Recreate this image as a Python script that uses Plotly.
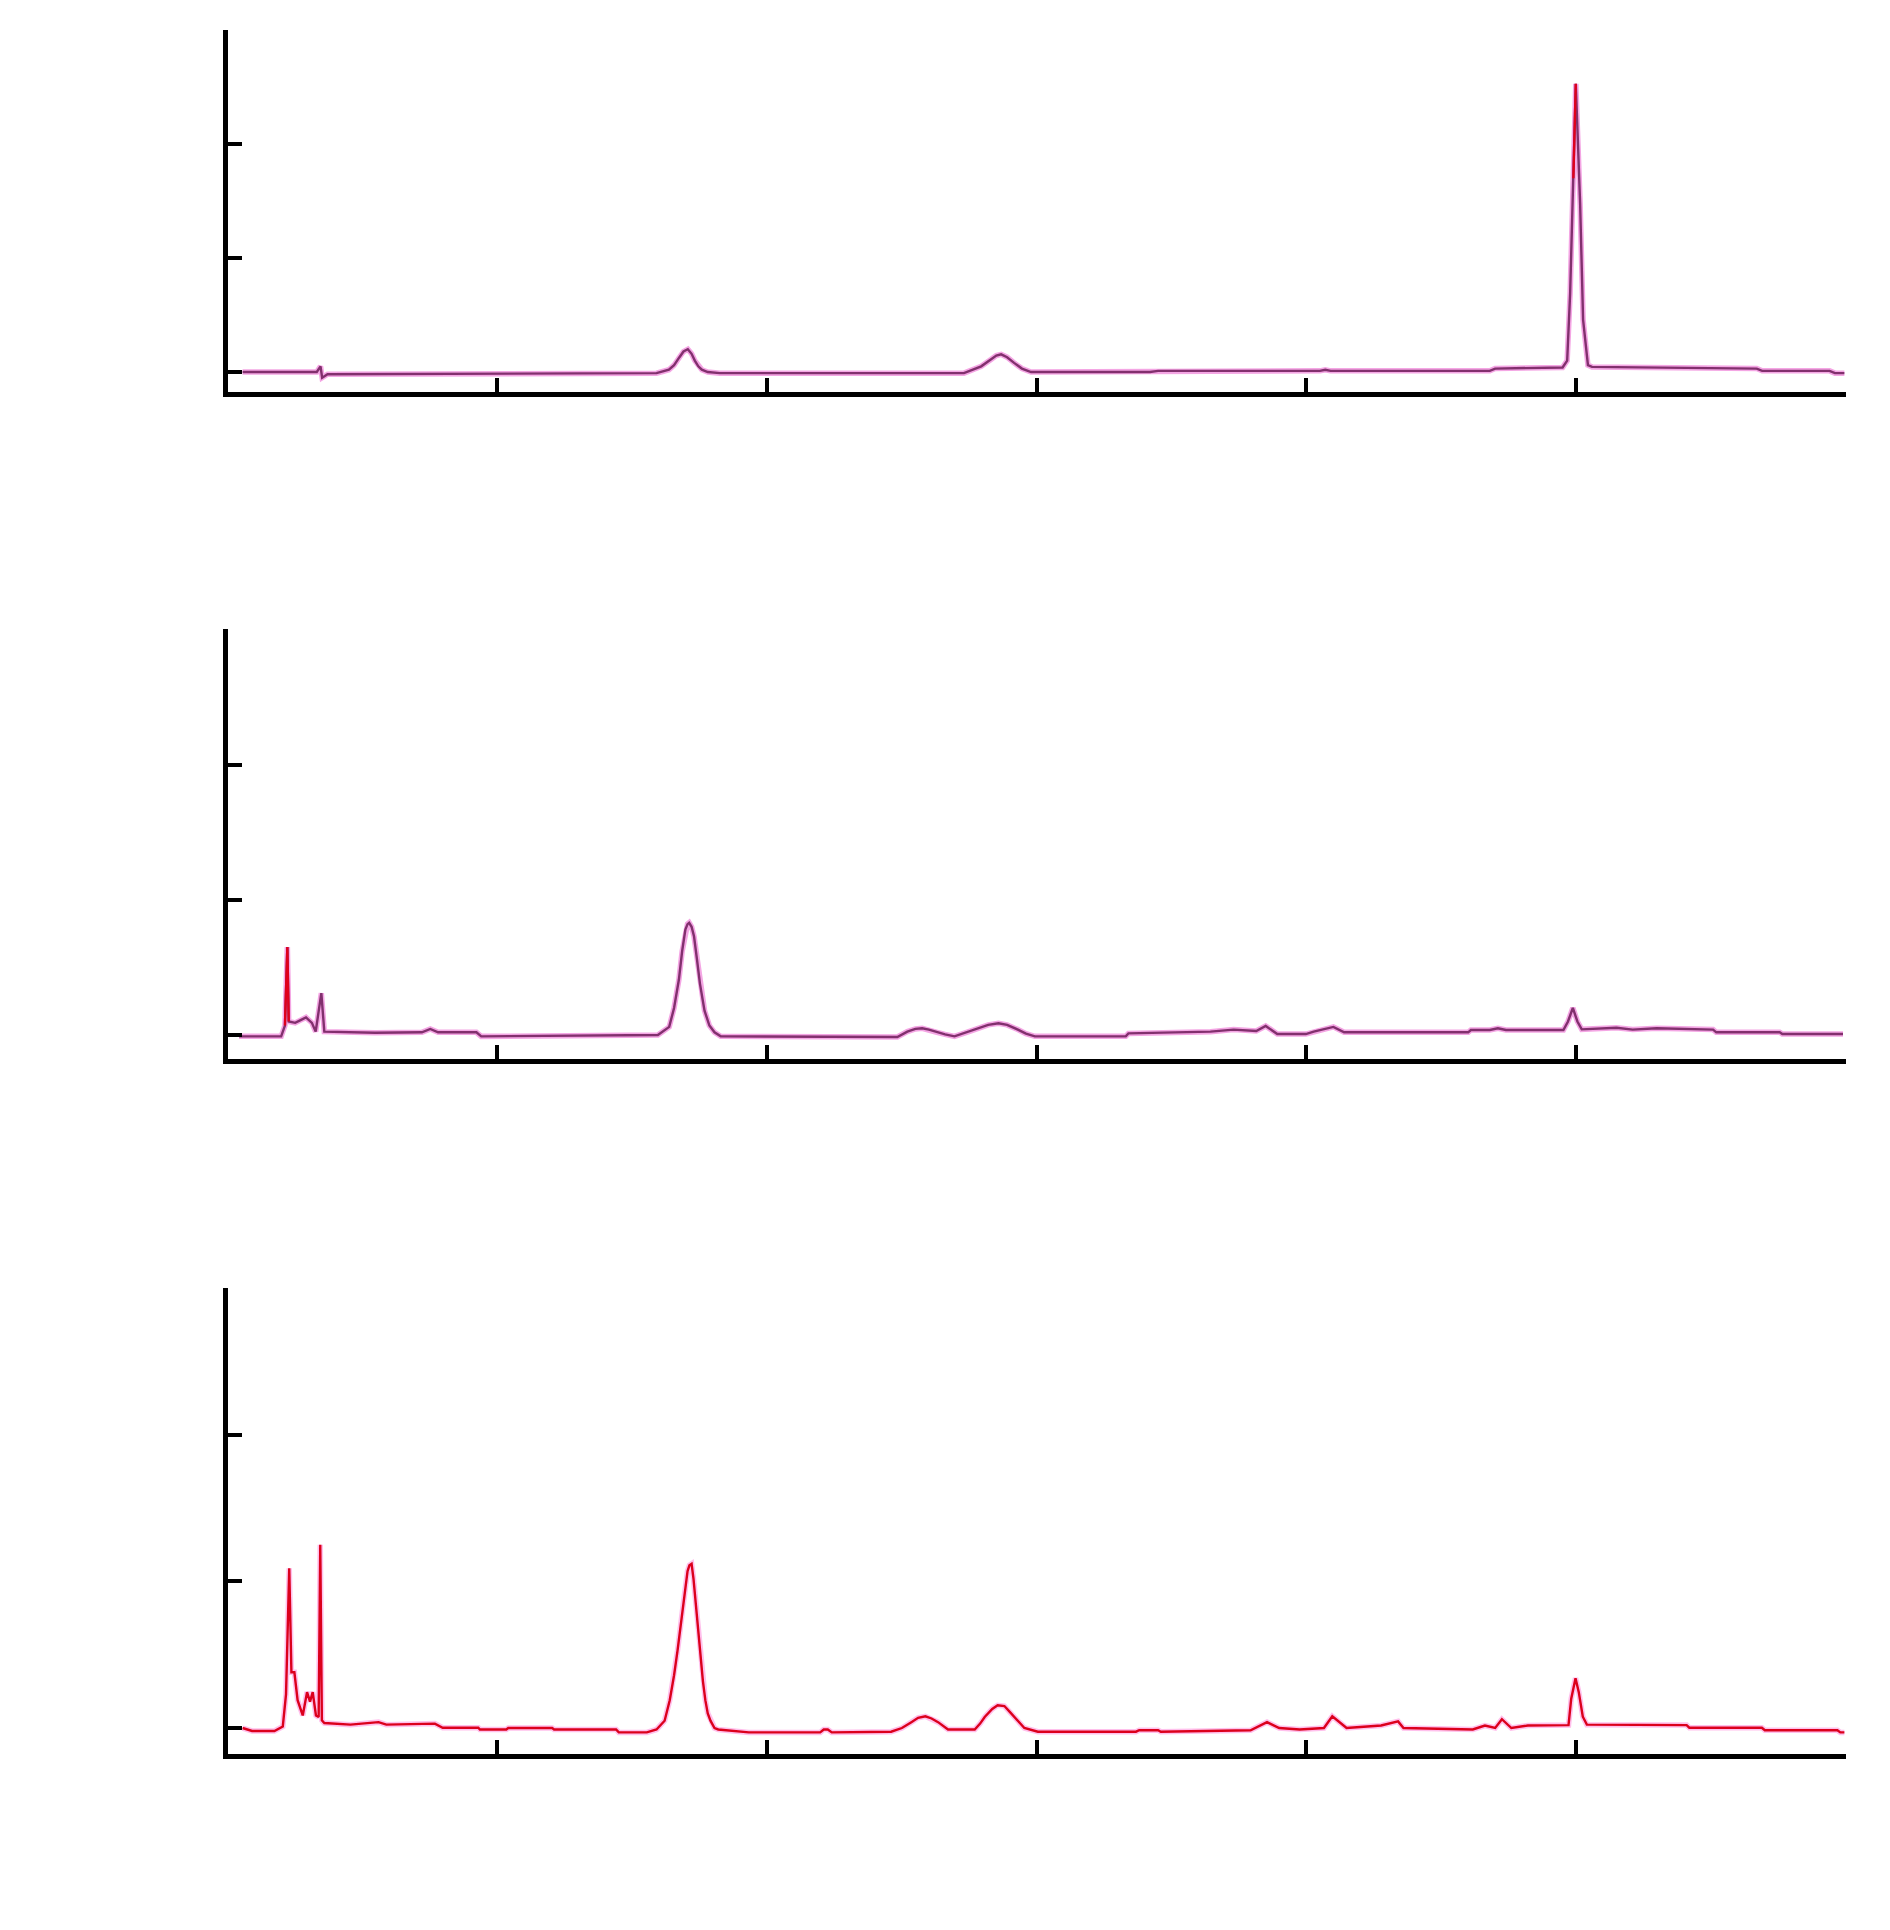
import plotly.graph_objects as go

# ---------------- data (retention time in min, response in axis units) -------------
# Panel 1 (top)
t1 = [0.55, 3.3, 3.44, 3.5, 3.7, 15.9, 16.36, 16.55, 16.75, 16.9, 17.06, 17.2,
      17.32, 17.45, 17.58, 17.8, 18.25,
      27.3, 27.94, 28.3, 28.5, 28.68, 28.9, 29.16, 29.45, 29.79,
      34.2, 34.5, 40.5, 40.7, 40.9, 46.8, 47.0,
      49.5, 49.67, 49.78, 49.9, 49.99, 50.15, 50.26, 50.44, 50.59, 56.7, 56.9,
      59.4, 59.6, 59.95]
y1 = [0.0, 0.0, 0.05, -0.05, -0.02, -0.01, 0.02, 0.06, 0.13, 0.18, 0.20, 0.16,
      0.10, 0.05, 0.02, 0.0, -0.01,
      -0.01, 0.05, 0.11, 0.145, 0.155, 0.13, 0.08, 0.03, 0.0,
      0.0, 0.01, 0.01, 0.02, 0.01, 0.01, 0.03,
      0.04, 0.10, 0.69, 1.70, 2.53, 1.48, 0.46, 0.06, 0.045, 0.03, 0.01,
      0.01, -0.01, -0.01]

# Panel 2 (middle)
t2 = [0.42, 1.98, 2.12, 2.21, 2.26, 2.5, 2.7, 2.9, 3.12, 3.26, 3.47, 3.58,
      5.46, 7.2, 7.51, 7.8, 9.22, 9.4,
      15.95, 16.37, 16.55, 16.73, 16.85, 16.97, 17.05, 17.11, 17.2, 17.29, 17.4,
      17.51, 17.68, 17.86, 18.05, 18.28,
      24.83, 25.2, 25.5, 25.75, 26.0, 26.3, 26.6, 26.95, 27.4, 27.8, 28.2, 28.58,
      28.9, 29.3, 29.6, 29.93,
      33.3, 33.4, 36.44, 37.3, 38.14, 38.49, 38.92, 39.98, 40.27, 41.0, 41.4,
      46.0, 46.1, 46.8, 47.1, 47.4, 49.53, 49.7, 49.88, 50.05, 50.21, 51.5, 52.1,
      52.99, 55.08, 55.2, 57.55, 57.65, 59.9]
y2 = [-0.01, -0.01, 0.07, 0.65, 0.10, 0.09, 0.11, 0.13, 0.09, 0.025, 0.31, 0.025,
      0.017, 0.02, 0.045, 0.02, 0.02, -0.01,
      0.0, 0.06, 0.2, 0.41, 0.62, 0.78, 0.82, 0.83, 0.8, 0.73, 0.56,
      0.38, 0.18, 0.07, 0.02, -0.01,
      -0.015, 0.025, 0.045, 0.05, 0.04, 0.02, 0.005, -0.01, 0.02, 0.045, 0.075, 0.087,
      0.075, 0.04, 0.01, -0.01,
      -0.01, 0.012, 0.025, 0.04, 0.03, 0.067, 0.007, 0.007, 0.025, 0.06, 0.02,
      0.02, 0.037, 0.037, 0.05, 0.037, 0.037, 0.1, 0.2, 0.1, 0.042, 0.054, 0.04,
      0.05, 0.04, 0.02, 0.02, 0.007, 0.007]

# Panel 3 (bottom)
t3 = [0.55, 0.9, 1.73, 2.04, 2.16, 2.28, 2.36, 2.47, 2.59, 2.78, 2.94, 3.05,
      3.15, 3.27, 3.37, 3.43, 3.49, 3.58,
      4.55, 5.59, 5.88, 7.21, 7.68, 7.97, 9.29, 9.35, 10.33, 10.4, 12.03, 12.1,
      14.4, 14.5, 15.54,
      15.9, 16.2, 16.39, 16.55, 16.68, 16.86, 16.95, 17.05, 17.12, 17.2, 17.27,
      17.34, 17.43, 17.52, 17.62, 17.71, 17.8, 17.9, 18.05, 18.19,
      19.32, 21.97, 22.1, 22.25, 22.4, 24.6, 25.0, 25.35, 25.6, 25.87, 26.1, 26.34,
      26.71, 27.7, 27.9, 28.07, 28.35, 28.55, 28.8, 29.0, 29.18, 29.54, 30.04,
      33.68, 33.8, 34.5, 34.6, 37.93, 38.54, 38.99, 39.75, 40.65, 40.96, 41.49,
      42.77, 43.4, 43.6, 46.17, 46.62, 47.0, 47.25, 47.6, 48.21,
      49.72, 49.82, 49.98, 50.1, 50.25, 50.4, 54.1, 54.2, 56.89, 57.0, 59.69,
      59.8, 59.95]
y3 = [0.0, -0.02, -0.02, 0.01, 0.23, 1.09, 0.38, 0.38, 0.19, 0.086, 0.245, 0.18,
      0.245, 0.086, 0.075, 1.25, 0.052, 0.034,
      0.023, 0.04, 0.023, 0.03, 0.03, 0.002, 0.002, -0.01, -0.01, 0.0, 0.0, -0.01,
      -0.01, -0.03, -0.03,
      -0.01, 0.05, 0.19, 0.36, 0.53, 0.8, 0.95, 1.07, 1.11, 1.12, 1.02,
      0.88, 0.68, 0.49, 0.32, 0.19, 0.1, 0.05, 0.0, -0.01,
      -0.03, -0.03, -0.01, -0.01, -0.03, -0.025, 0.0, 0.04, 0.07, 0.08, 0.065, 0.04,
      -0.01, -0.01, 0.03, 0.075, 0.13, 0.155, 0.15, 0.11, 0.075, 0.0, -0.025,
      -0.025, -0.015, -0.015, -0.025, -0.015, 0.04, 0.0, -0.01, 0.0, 0.08, 0.0,
      0.017, 0.045, 0.0, -0.01, 0.017, 0.0, 0.06, 0.0, 0.017,
      0.02, 0.2, 0.34, 0.245, 0.077, 0.023, 0.02, 0.002, 0.002, -0.015, -0.015,
      -0.03, -0.03]

x_ticks = [0, 10, 20, 30, 40, 50, 60]
y_ticks = [0, 1, 2, 3]

# ---------------- figure ----------------
OFF = 8                       # default page margin of the html body
LW = 5                        # axis line width
W, H = 1890 - 2 * OFF, 1930 - 2 * OFF
fig = go.Figure()

panels = [
    (t1, y1, "x", "y", "#82306e", "#f4a6e4"),
    (t2, y2, "x2", "y2", "#82306e", "#f4a6e4"),
    (t3, y3, "x3", "y3", "#dc001c", "#ffc0ec"),
]
for t, y, xa, ya, col, halo in panels:
    fig.add_trace(go.Scatter(x=t, y=y, xaxis=xa, yaxis=ya, mode="lines",
                             line=dict(color=halo, width=5.5), hoverinfo="skip"))
    fig.add_trace(go.Scatter(x=t, y=y, xaxis=xa, yaxis=ya, mode="lines",
                             line=dict(color=col, width=2.4)))

# red highlights (overlaid runs) on peak tips
fig.add_trace(go.Scatter(x=t1[36:38], y=y1[36:38], xaxis="x", yaxis="y", mode="lines",
                         line=dict(color="#e0001c", width=2.4)))
fig.add_trace(go.Scatter(x=t2[2:5], y=y2[2:5], xaxis="x2", yaxis="y2", mode="lines",
                         line=dict(color="#e0001c", width=2.4)))

# axis line centre positions in screenshot pixels
x_left, x_right = 225 + LW / 2, 1846
x_dom = [(x_left - OFF) / W, (x_right - OFF) / W]
# (x-axis line px, top tick px, baseline tick px)
geo = [(394, 30, 372), (1061, 629, 1035), (1756, 1288, 1728)]

axis_style = dict(showline=True, linewidth=LW, linecolor="black", mirror=False,
                  ticks="inside", ticklen=14, tickwidth=4, tickcolor="black",
                  showticklabels=False, showgrid=False, zeroline=False)

layout = dict(width=W, height=H, margin=dict(l=0, r=0, t=0, b=0),
              paper_bgcolor="white", plot_bgcolor="white", showlegend=False)

for i, (axis_px, top, base) in enumerate(geo):
    bot = axis_px - LW / 2
    unit = (base - top) / 3.0
    ymin = -(bot - base) / unit
    sx = "" if i == 0 else str(i + 1)
    layout["xaxis" + sx] = dict(domain=x_dom, range=[-0.01, 60.01], tickvals=x_ticks,
                                anchor="y" + sx, **axis_style)
    layout["yaxis" + sx] = dict(domain=[1 - (bot - OFF) / H, 1 - (top - OFF) / H],
                                range=[ymin, 3.002], tickvals=y_ticks,
                                anchor="x" + sx, **axis_style)

fig.update_layout(**layout)
fig.write_html("out.html")
